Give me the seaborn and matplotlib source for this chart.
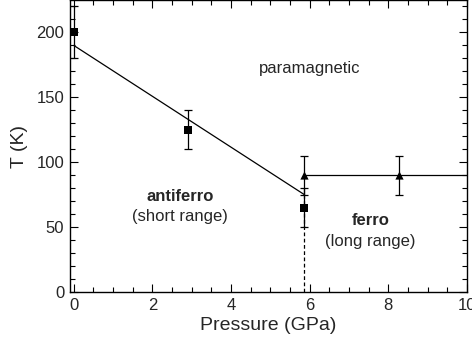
import matplotlib
matplotlib.use("Agg")
import matplotlib.pyplot as plt
import seaborn as sns
import pandas as pd
from matplotlib.ticker import MultipleLocator

# Data
afm_p = [0.0, 2.9, 5.87]
afm_t = [200, 125, 65]
afm_err = [20, 15, 15]

fm_p = [5.87, 8.28]
fm_t = [90, 90]
fm_err = [15, 15]

line_p = [0.0, 5.87]
line_t = [190, 75]
flat_p = [5.87, 10.0]
flat_t = [90, 90]
dash_p = [5.87, 5.87]
dash_t = [0, 75]

sns.set_style("ticks")
plt.rcParams['font.family'] = ['Liberation Sans', 'DejaVu Sans']

fig = plt.figure(figsize=(4.72, 3.44), dpi=100)
ax = fig.add_axes([0.148, 0.151, 0.841, 0.849])

afm = pd.DataFrame({"p": afm_p, "t": afm_t})
fm = pd.DataFrame({"p": fm_p, "t": fm_t})

sns.lineplot(x=line_p, y=line_t, ax=ax, color="black", lw=0.9)
sns.lineplot(x=flat_p, y=flat_t, ax=ax, color="black", lw=0.9)
ax.plot(dash_p, dash_t, color="black", lw=0.9, ls=(0, (3, 2)))

ax.errorbar(afm_p, afm_t, yerr=afm_err, fmt="none", ecolor="black", elinewidth=0.9, capsize=3, capthick=0.9)
ax.errorbar(fm_p, fm_t, yerr=fm_err, fmt="none", ecolor="black", elinewidth=0.9, capsize=3, capthick=0.9)

sns.scatterplot(data=afm, x="p", y="t", ax=ax, marker="s", color="black", s=30, edgecolor="black", linewidth=0, zorder=5)
sns.scatterplot(data=fm, x="p", y="t", ax=ax, marker="^", color="black", s=35, edgecolor="black", linewidth=0, zorder=5)

ax.set_xlim(-0.1, 10.0)
ax.set_ylim(0, 225)
ax.xaxis.set_major_locator(MultipleLocator(2))
ax.xaxis.set_minor_locator(MultipleLocator(0.5))
ax.yaxis.set_major_locator(MultipleLocator(50))
ax.yaxis.set_minor_locator(MultipleLocator(10))
ax.tick_params(which="both", direction="in", top=True, right=True, labelsize=12, color="black")
ax.tick_params(which="major", length=6, width=0.8, pad=4)
ax.tick_params(which="minor", length=3.5, width=0.8)
for s in ax.spines.values():
    s.set_linewidth(1.0)
    s.set_color("black")

ax.set_xlabel("Pressure (GPa)", fontsize=14, labelpad=3)
ax.set_ylabel("T (K)", fontsize=14, labelpad=6)

ax.text(6.0, 172, "paramagnetic", fontsize=12, ha="center", va="center")
ax.text(2.7, 74, "antiferro", fontsize=12, fontweight="bold", ha="center", va="center")
ax.text(2.7, 58, "(short range)", fontsize=12, ha="center", va="center")
ax.text(7.55, 55, "ferro", fontsize=12, fontweight="bold", ha="center", va="center")
ax.text(7.55, 39, "(long range)", fontsize=12, ha="center", va="center")

fig.savefig("out.png", dpi=100)
